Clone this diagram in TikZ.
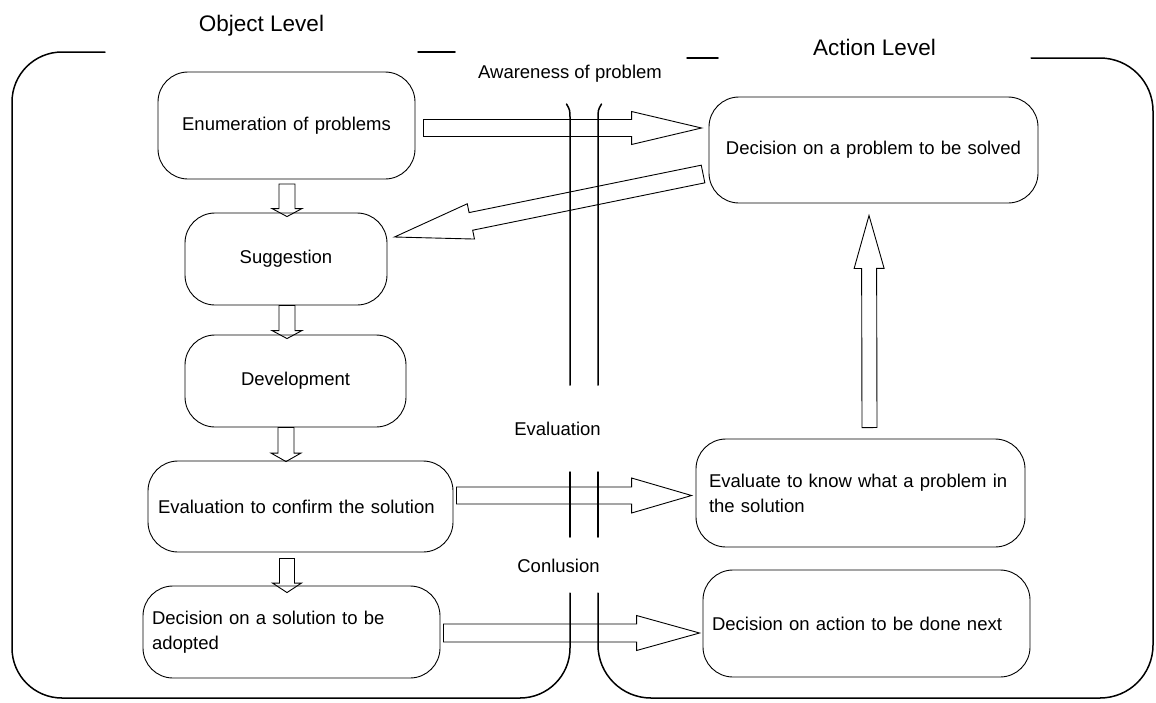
\documentclass[tikz,border=0pt]{standalone}
\usepackage{fontspec}
\setmainfont{Liberation Sans}
\usetikzlibrary{calc}

\tikzset{
  frame/.style={line width=1.5pt, line cap=round},
  stagebox/.style={draw, line width=0.9pt, rounded corners=30pt,
    inner xsep=9pt, inner ysep=0pt, font=\fontsize{18.5}{25}\selectfont},
  blockarrow/.style={draw, line width=0.9pt, line join=miter},
  levellabel/.style={font=\fontsize{22.5}{27}\selectfont, anchor=base, inner sep=0pt},
  flowlabel/.style={font=\fontsize{18.5}{25}\selectfont, anchor=base, inner sep=0pt},
}

% outlined block arrow: #1 tail, #2 tip, #3 half shaft width,
% #4 half head width, #5 head length
\newcommand\drawblockarrow[5]{%
  \coordinate (bah) at ($(#2)!#5!(#1)$);
  \draw[blockarrow] ($(#1)!#3!90:(#2)$) -- ($(bah)!#3!90:(#2)$)
    -- ($(bah)!#4!90:(#2)$) -- (#2) -- ($(bah)!#4!-90:(#2)$)
    -- ($(bah)!#3!-90:(#2)$) -- ($(#1)!#3!-90:(#2)$) -- cycle;
}

\begin{document}
\begin{tikzpicture}[x=1pt, y=-1pt]
\useasboundingbox (0,0) rectangle (1156,702);

% level frames
\draw[frame, rounded corners=50pt] (105,52) -- (12,52) -- (12,698) -- (570,698) -- (570,593);
\draw[frame] (418,52) -- (455,52);
\draw[frame, rounded corners=53pt] (1031,58) -- (1153,58) -- (1153,698) -- (598,698) -- (598,593);
\draw[frame] (687,58) -- (718,58);

% the gap between the two levels
\draw[frame] (566.5,104) .. controls (570,110) .. (570,120) -- (570,385);
\draw[frame] (601.5,104) .. controls (598,110) .. (598,120) -- (598,385);
\draw[frame] (570,472) -- (570,537);
\draw[frame] (598,472) -- (598,537);

% headings
\node[levellabel] (objlbl) at (261.5,31) {Object Level};
\node[levellabel] (actlbl) at (874.5,55) {Action Level};
\node[flowlabel] (awarelbl) at (570,78) {Awareness of problem};
\node[flowlabel] (evallbl) at (557.5,435) {Evaluation};
\node[flowlabel] (conclbl) at (558.5,572) {Conlusion};

% object level steps
\node[stagebox, minimum height=107pt, text width=239pt, align=center] (enum) at (286.5,125.5) {Enumeration of problems};
\node[stagebox, minimum height=92pt, text width=184pt, align=center] (sugg) at (286,259) {Suggestion};
\node[stagebox, minimum height=92pt, text width=203pt, align=center] (dev) at (295.5,381) {Development};
\node[stagebox, minimum height=91pt, text width=285pt, inner xsep=10pt, align=left] (evconf) at (300.5,506.5) {Evaluation to confirm the solution};
\node[stagebox, minimum height=92pt, text width=279pt, align=left] (dsol) at (291.5,632) {Decision on a solution to be\\adopted};

% action level steps
\node[stagebox, minimum height=106pt, text width=311pt, align=center] (dprob) at (873.5,150) {Decision on a problem to be solved};
\node[stagebox, minimum height=108pt, text width=303pt, inner xsep=13pt, align=left] (evknow) at (860.5,493) {Evaluate to know what a problem in\\the solution};
\node[stagebox, minimum height=107pt, text width=309pt, align=left] (dact) at (866.5,623.5) {Decision on action to be done next};

% arrow ends
\coordinate (a1t) at ($(enum.east)+(8,2.5)$);
\coordinate (a1h) at ($(dprob.west)+(-7,-22)$);
\coordinate (a2t) at ($(dprob.west)+(-5.5,24)$);
\coordinate (a2h) at ($(sugg.east)+(7,-22)$);
\coordinate (c1t) at ($(enum.south)+(0.5,4.5)$);
\coordinate (c1h) at ($(sugg.north)+(1,4)$);
\coordinate (c2t) at ($(sugg.south)+(1,0)$);
\coordinate (c2h) at ($(dev.north)+(-8.5,4)$);
\coordinate (c3t) at ($(dev.south)+(-9.5,0)$);
\coordinate (c3h) at ($(evconf.north)+(-14.5,1)$);
\coordinate (c4t) at ($(evconf.south)+(-13.5,6)$);
\coordinate (c4h) at ($(dsol.north)+(-4.5,7)$);
\coordinate (d1t) at ($(evconf.east)+(3,-11)$);
\coordinate (d1h) at ($(evknow.west)+(-4,2.5)$);
\coordinate (e1t) at ($(dsol.east)+(3,1)$);
\coordinate (e1h) at ($(dact.west)+(-3,9.5)$);
\coordinate (f1t) at ($(evknow.north)+(9,-11)$);
\coordinate (f1h) at ($(dprob.south)+(-4.5,12)$);

% block arrows
\drawblockarrow{a1t}{a1h}{8.5pt}{16.5pt}{70pt}
\drawblockarrow{a2t}{a2h}{9pt}{18pt}{78pt}
\drawblockarrow{c1t}{c1h}{8pt}{15pt}{8pt}
\drawblockarrow{c2t}{c2h}{8pt}{15pt}{8pt}
\drawblockarrow{c3t}{c3h}{8pt}{15pt}{8.5pt}
\drawblockarrow{c4t}{c4h}{7.5pt}{14.5pt}{9.5pt}
\drawblockarrow{d1t}{d1h}{8.5pt}{17.5pt}{60pt}
\drawblockarrow{e1t}{e1h}{9pt}{17.5pt}{63pt}
\drawblockarrow{f1t}{f1h}{7.5pt}{15pt}{53pt}
\end{tikzpicture}
\end{document}
